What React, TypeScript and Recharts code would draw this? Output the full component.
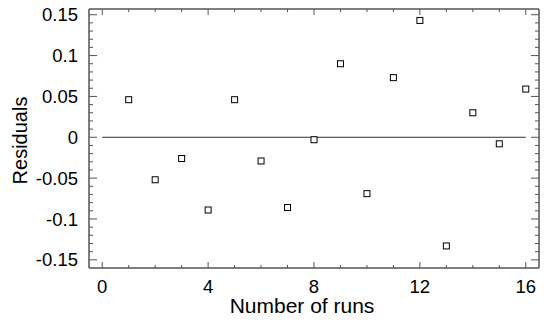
import { ScatterChart, Scatter, XAxis, YAxis, ReferenceLine, Label } from "recharts"

const runs = [1, 2, 3, 4, 5, 6, 7, 8, 9, 10, 11, 12, 13, 14, 15, 16]
const residuals = [
  0.046, -0.052, -0.026, -0.089, 0.046, -0.029, -0.086, -0.003, 0.09, -0.069, 0.073, 0.143, -0.133, 0.03,
  -0.008, 0.059,
]

const xMajorTicks = [0, 4, 8, 12, 16]
const xAllTicks = [0, 1, 2, 3, 4, 5, 6, 7, 8, 9, 10, 11, 12, 13, 14, 15, 16]
const yMajorTicks = [-0.15, -0.1, -0.05, 0, 0.05, 0.1, 0.15]
const yAllTicks = [
  -0.15, -0.14, -0.13, -0.12, -0.11, -0.1, -0.09, -0.08, -0.07, -0.06, -0.05, -0.04, -0.03, -0.02, -0.01, 0,
  0.01, 0.02, 0.03, 0.04, 0.05, 0.06, 0.07, 0.08, 0.09, 0.1, 0.11, 0.12, 0.13, 0.14, 0.15,
]

const points = runs.map((run, i) => ({ run, residual: residuals[i] }))

const xDomain = [-0.5, 16.5]
const yDomain = [-0.16, 0.157]
const axisColor = "#555"
const font = "'Liberation Sans', Arial, Helvetica, sans-serif"

// open square marker
const Square = (props: any) => {
  const { cx, cy } = props
  return <rect x={cx - 3} y={cy - 3} width={6} height={6} fill="#fff" stroke="#000" strokeWidth={1} />
}
const Nothing = () => <g />

// inward ticks, long for major values, labels only where asked
const makeTick = (side: string, labels: boolean) => (props: any) => {
  const { x, y, payload } = props
  const v = payload.value
  const horiz = side === "bottom" || side === "top"
  const major = horiz ? xMajorTicks.includes(v) : yMajorTicks.includes(v)
  const len = horiz ? (major ? 6 : 3) : major ? 8 : 4
  let x2 = x
  let y2 = y
  if (side === "bottom") y2 = y - len
  if (side === "top") y2 = y + len
  if (side === "left") x2 = x + len
  if (side === "right") x2 = x - len
  return (
    <g>
      <line x1={x} y1={y} x2={x2} y2={y2} stroke={axisColor} strokeWidth={1} />
      {labels && major && side === "bottom" && (
        <text x={x} y={y + 12} dy="0.71em" textAnchor="middle" fontSize={18.5} fontFamily={font} fill="#000">
          {v}
        </text>
      )}
      {labels && major && side === "left" && (
        <text x={x - 11} y={y} dy="0.355em" textAnchor="end" fontSize={18.5} fontFamily={font} fill="#000">
          {v}
        </text>
      )}
    </g>
  )
}

export default function App() {
  return (
    <div style={{ position: "absolute", left: 0, top: 0, background: "#fff" }}>
      <ScatterChart width={547} height={323} margin={{ top: 8, right: 7, bottom: 0, left: 0 }}>
        <XAxis
          xAxisId="main"
          dataKey="run"
          type="number"
          domain={xDomain}
          allowDataOverflow
          ticks={xAllTicks}
          interval={0}
          tickSize={0}
          tickMargin={0}
          height={55}
          axisLine={{ stroke: axisColor, strokeWidth: 1.5 }}
          tickLine={false}
          tick={makeTick("bottom", true)}
        >
          <Label
            content={({ viewBox }: any) => (
              <text
                x={viewBox.x + viewBox.width / 2 - 12}
                y={313}
                textAnchor="middle"
                fontSize={21}
                fontFamily={font}
                fill="#000"
              >
                Number of runs
              </text>
            )}
          />
        </XAxis>
        <XAxis
          xAxisId="top"
          dataKey="run"
          orientation="top"
          type="number"
          domain={xDomain}
          allowDataOverflow
          ticks={xAllTicks}
          interval={0}
          tickSize={0}
          tickMargin={0}
          height={1}
          axisLine={{ stroke: axisColor, strokeWidth: 1.5 }}
          tickLine={false}
          tick={makeTick("top", false)}
        />
        <YAxis
          yAxisId="main"
          dataKey="residual"
          type="number"
          domain={yDomain}
          allowDataOverflow
          ticks={yAllTicks}
          interval={0}
          tickSize={0}
          tickMargin={0}
          width={89}
          axisLine={{ stroke: axisColor, strokeWidth: 1.5 }}
          tickLine={false}
          tick={makeTick("left", true)}
        >
          <Label
            content={({ viewBox }: any) => (
              <text
                x={27}
                y={viewBox.y + viewBox.height / 2 + 2}
                transform={`rotate(-90, 27, ${viewBox.y + viewBox.height / 2 + 2})`}
                textAnchor="middle"
                fontSize={20}
                fontFamily={font}
                fill="#000"
              >
                Residuals
              </text>
            )}
          />
        </YAxis>
        <YAxis
          yAxisId="right"
          dataKey="residual"
          orientation="right"
          type="number"
          domain={yDomain}
          allowDataOverflow
          ticks={yAllTicks}
          interval={0}
          tickSize={0}
          tickMargin={0}
          width={1}
          axisLine={{ stroke: axisColor, strokeWidth: 1.5 }}
          tickLine={false}
          tick={makeTick("right", false)}
        />
        {/* invisible series so the top and right frame axes get drawn */}
        <Scatter xAxisId="top" yAxisId="right" data={points} shape={Nothing} isAnimationActive={false} />
        <ReferenceLine
          xAxisId="main"
          yAxisId="main"
          segment={[
            { x: 0, y: 0 },
            { x: 16, y: 0 },
          ]}
          stroke="#333"
          strokeWidth={1}
        />
        <Scatter
          xAxisId="main"
          yAxisId="main"
          data={points}
          shape={Square}
          isAnimationActive={false}
        />
      </ScatterChart>
    </div>
  )
}
